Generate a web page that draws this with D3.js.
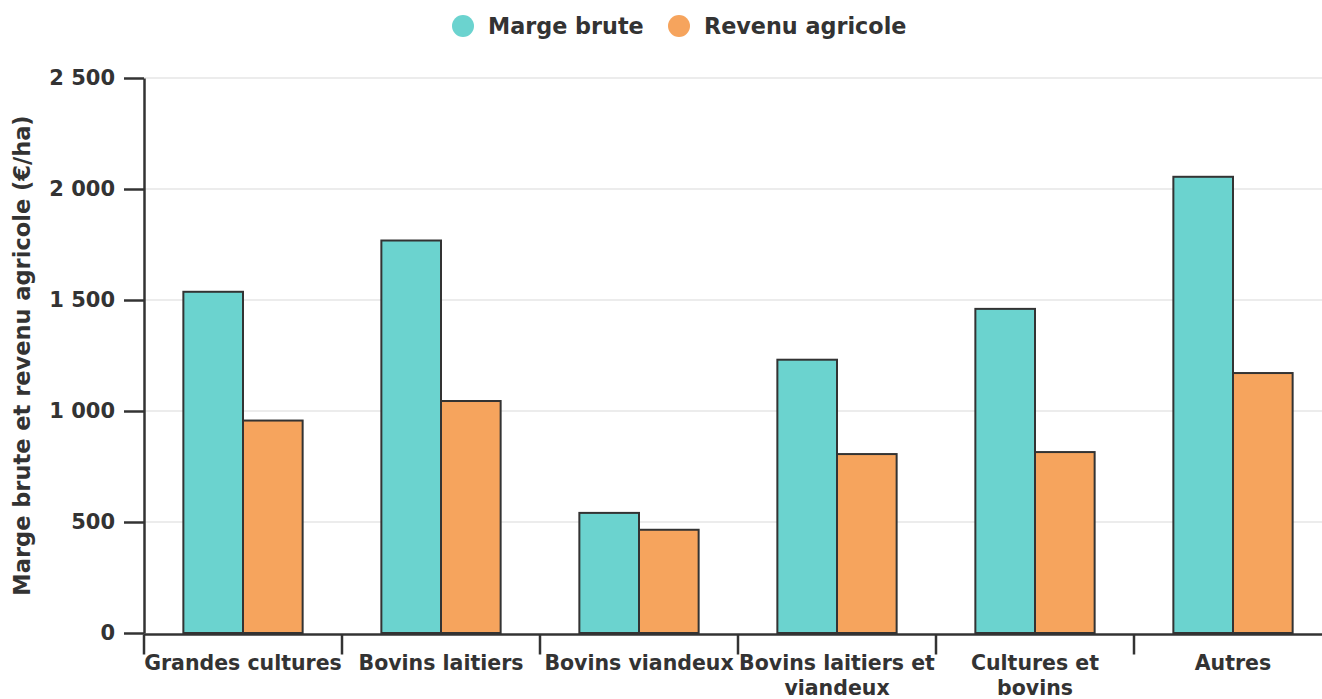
<!DOCTYPE html>
<html>
<head>
<meta charset="utf-8">
<script src="https://cdn.jsdelivr.net/npm/d3@7"></script>
<style>
  body { margin: 0; background: #fff; }
  svg text { font-family: "DejaVu Sans", sans-serif; font-weight: bold; fill: #333; }
</style>
</head>
<body>
<svg id="chart" width="1322" height="699"></svg>
<script>
// data (€/ha)
const categories = ["Grandes cultures", "Bovins laitiers", "Bovins viandeux", "Bovins laitiers et viandeux", "Cultures et bovins", "Autres"];
const margeBrute = [1537, 1768, 541, 1231, 1460, 2055];
const revenuAgricole = [957, 1045, 465, 806, 815, 1171];
const seriesNames = ["Marge brute", "Revenu agricole"];
const colors = ["#6bd3cf", "#f6a45d"];
const yTicks = [0, 500, 1000, 1500, 2000, 2500];

const svg = d3.select("#chart");
const width = 1322, height = 699;
const margin = { left: 144, top: 78, bottom: 66 };
const plotRight = 1332; // last band runs slightly past the edge

const x = d3.scaleBand().domain(categories).range([margin.left, plotRight]).padding(0);
const xSub = d3.scaleBand().domain(seriesNames).range([0, x.bandwidth()]).paddingOuter(0.66).paddingInner(0);
const y = d3.scaleLinear().domain([0, 2500]).range([height - margin.bottom, margin.top]);

// formatting with a space as thousands separator
const fmt = d => d3.format(",")(d).replace(/,/g, " ");

// grid
svg.append("g")
  .selectAll("line")
  .data(yTicks.filter(d => d > 0))
  .join("line")
  .attr("x1", margin.left).attr("x2", width)
  .attr("y1", d => y(d)).attr("y2", d => y(d))
  .attr("stroke", "#e6e6e6")
  .attr("stroke-width", 1.5);

// bars
const rows = categories.map((c, i) => ({ cat: c, values: [margeBrute[i], revenuAgricole[i]] }));
svg.append("g")
  .selectAll("g")
  .data(rows)
  .join("g")
  .attr("transform", d => `translate(${x(d.cat)},0)`)
  .selectAll("rect")
  .data(d => d.values.map((v, j) => ({ name: seriesNames[j], value: v, color: colors[j] })))
  .join("rect")
  .attr("x", d => xSub(d.name))
  .attr("width", xSub.bandwidth())
  .attr("y", d => y(d.value))
  .attr("height", d => y(0) - y(d.value))
  .attr("fill", d => d.color)
  .attr("stroke", "#333")
  .attr("stroke-width", 2);

// y axis
const yAxis = svg.append("g")
  .attr("transform", `translate(${margin.left},0)`)
  .call(d3.axisLeft(y).tickValues(yTicks).tickFormat(fmt).tickSize(20).tickPadding(9).tickSizeOuter(0));
yAxis.select(".domain").attr("stroke", "#333").attr("stroke-width", 2.5);
yAxis.selectAll(".tick line").attr("stroke", "#333").attr("stroke-width", 2.5);
yAxis.selectAll(".tick text").style("font-size", "21px").style("font-family", "DejaVu Sans").style("font-weight", "bold").attr("fill", "#333");

// x axis: line, boundary ticks, wrapped labels
const xAxisY = y(0) + 1.5;
const xg = svg.append("g");
xg.append("line")
  .attr("x1", margin.left).attr("x2", width)
  .attr("y1", xAxisY).attr("y2", xAxisY)
  .attr("stroke", "#333").attr("stroke-width", 2.5);
xg.selectAll("line.bound")
  .data(categories)
  .join("line")
  .attr("class", "bound")
  .attr("x1", d => x(d)).attr("x2", d => x(d))
  .attr("y1", xAxisY).attr("y2", xAxisY + 20)
  .attr("stroke", "#333").attr("stroke-width", 2.5);

const labels = xg.selectAll("text")
  .data(categories)
  .join("text")
  .attr("x", d => x(d) + x.bandwidth() / 2)
  .attr("y", 670)
  .attr("text-anchor", "middle")
  .style("font-size", "20.5px");

labels.each(function(d) {
  const t = d3.select(this);
  const words = d.split(" ");
  let line = [];
  let tspan = t.append("tspan").attr("x", x(d) + x.bandwidth() / 2);
  for (const w of words) {
    line.push(w);
    tspan.text(line.join(" "));
    if (tspan.node().getComputedTextLength() > x.bandwidth() + 1 && line.length > 1) {
      line.pop();
      tspan.text(line.join(" "));
      line = [w];
      tspan = t.append("tspan")
        .attr("x", x(d) + x.bandwidth() / 2)
        .attr("dy", "1.2em")
        .text(w);
    }
  }
});

// y axis title
svg.append("text")
  .attr("transform", `translate(30,${(y(0) + y(2500)) / 2}) rotate(-90)`)
  .attr("text-anchor", "middle")
  .style("font-size", "22.5px")
  .text("Marge brute et revenu agricole (€/ha)");

// legend
const legendItems = [
  { name: seriesNames[0], color: colors[0], cx: 463 },
  { name: seriesNames[1], color: colors[1], cx: 679 }
];
const lg = svg.append("g").selectAll("g").data(legendItems).join("g");
lg.append("circle")
  .attr("cx", d => d.cx).attr("cy", 26).attr("r", 11)
  .attr("fill", d => d.color);
lg.append("text")
  .attr("x", d => d.cx + 25).attr("y", 34)
  .style("font-size", "22.3px")
  .text(d => d.name);
</script>
</body>
</html>
